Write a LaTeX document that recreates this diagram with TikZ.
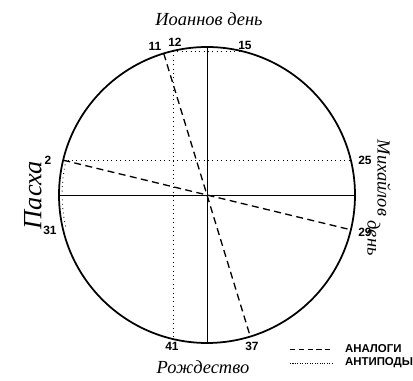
\documentclass[tikz,border=0pt]{standalone}
\usepackage{fontspec}
\setmainfont{Liberation Serif}
\setsansfont{Liberation Sans}
\usetikzlibrary{positioning,calc}

\begin{document}
\begin{tikzpicture}[
  x=0.02cm,y=0.02cm,
  rim/.style={line width=1pt},
  axis/.style={line width=0.5pt},
  analog/.style={line width=0.75pt, dash pattern=on 4pt off 2.5pt},
  antipod/.style={line width=0.5pt, dotted},
  num/.style={font=\sffamily\bfseries\fontsize{6.8}{7}\selectfont, inner sep=1pt},
  feast/.style={font=\itshape\fontsize{10.5}{11}\selectfont, inner sep=1pt},
  legtext/.style={font=\sffamily\bfseries\fontsize{6.5}{7}\selectfont, anchor=west, inner sep=1pt}
]
\useasboundingbox (-207,-186) rectangle (206,195);
\def\R{148}

\draw[rim] (0,0) circle (\R);

% points on the rim
\coordinate (p2) at (166.4:\R);
\coordinate (p11) at (107:\R);
\coordinate (p12) at (103.3:\R);
\coordinate (p15) at (76.7:\R);
\coordinate (p25) at (13.6:\R);
\coordinate (p29) at (-13.6:\R);
\coordinate (p31) at (193.6:\R);
\coordinate (p37) at (287:\R);
\coordinate (p41) at (256.7:\R);
\coordinate (top) at (90:\R);
\coordinate (bot) at (270:\R);
\coordinate (lft) at (180:\R);
\coordinate (rgt) at (0:\R);

\draw[axis] (top) -- (bot);
\draw[axis] (lft) -- (rgt);

\draw[analog] (p11) -- (p37);
\draw[analog] (p2) -- (p29);

\draw[antipod] (p12) -- (p41);
\draw[antipod] (p2) -- (p25);
\draw[antipod] (p12) -- (p15);
\draw[antipod] ($(p2)+(3,0)$) arc (166.4:193.6:\R-3);

\node[num] (n11) at (-52,149) {11};
\node[num] (n12) at (-32,153) {12};
\node[num] (n15) at (38,150) {15};
\node[num] (n2) at (-159,35) {2};
\node[num] (n25) at (158,35) {25};
\node[num] (n29) at (158,-37) {29};
\node[num] (n31) at (-157,-35) {31};
\node[num] (n41) at (-35,-151) {41};
\node[num] (n37) at (45,-151) {37};

\node[feast] (ioann) at (2,176) {Иоаннов день};
\node[feast] (rozhd) at (-4,-172) {Рождество};
\node[feast, font=\itshape\fontsize{15}{15}\selectfont, rotate=90] (pascha) at (-174,0) {Пасха};
\node[feast, rotate=-90] (mikh) at (177,17) {Михайлов};
\node[feast, rotate=-90] (den) at (167,-43) {день};

\coordinate (la) at (83,-154);
\coordinate (lb) at (126,-154);
\coordinate (lc) at (83,-168);
\coordinate (ld) at (126,-168);
\draw[analog, line width=0.5pt, dash pattern=on 3pt off 2pt] (la) -- (lb);
\draw[antipod, line width=0.4pt, dash pattern=on 0.6pt off 0.8pt] (lc) -- (ld);
\node[legtext] (analogi) at (136,-154) {АНАЛОГИ};
\node[legtext] (antipody) at (136,-168) {АНТИПОДЫ};

\end{tikzpicture}
\end{document}
